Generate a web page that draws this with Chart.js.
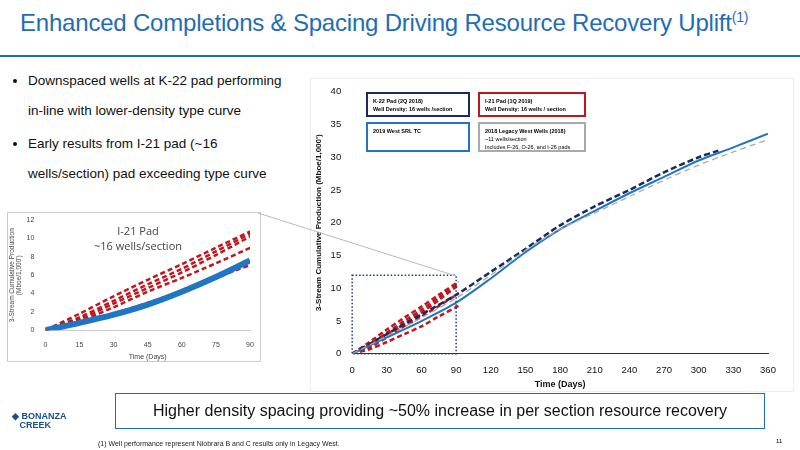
<!DOCTYPE html>
<html><head><meta charset="utf-8">
<script src="https://cdn.jsdelivr.net/npm/chart.js@4"></script>
<style>
body{margin:0;width:800px;height:450px;position:relative;background:#fff;font-family:"Liberation Sans",Arial,sans-serif;overflow:hidden}
.abs{position:absolute}
h1{position:absolute;left:20px;top:9px;margin:0;font-weight:normal;font-size:24px;color:#1f6db5;letter-spacing:-0.2px}
h1 sup{font-size:14px}
.rule{left:0;top:55px;width:800px;height:2px;background:#1f6db5}
ul{position:absolute;left:8px;top:66px;margin:0;padding-left:20px;font-size:13.5px;color:#111;width:270px;line-height:30px}
li{margin-bottom:3px}
.lg{position:absolute;font-size:5.5px;font-weight:bold;padding:3px 5px;box-sizing:border-box;line-height:8px;white-space:nowrap}
.banner{left:115px;top:393px;width:650px;height:36px;border:1.5px solid #1f6db5;box-sizing:border-box;text-align:center;font-size:16px;line-height:33px;color:#111}
.foot{left:98px;top:440px;font-size:7px;color:#222}
</style></head><body>
<h1>Enhanced Completions &amp; Spacing Driving Resource Recovery Uplift<sup>(1)</sup></h1>
<div class="abs rule"></div>
<ul><li>Downspaced wells at K-22 pad performing in-line with lower-density type curve</li><li>Early results from I-21 pad (~16 wells/section) pad exceeding type curve</li></ul>
<div class="abs" style="left:310px;top:78px;width:482px;height:312px;border:1px solid #eee"></div>
<div class="abs" style="left:310px;top:83px;width:480px;height:311px"><canvas id="main"></canvas></div>
<div class="abs" style="left:7px;top:212px;width:252px;height:148px;border:1px solid #ccc;background:#fff"><canvas id="inset"></canvas></div>
<svg class="abs" style="left:0;top:0" width="800" height="450"><line x1="258" y1="213" x2="456" y2="276" stroke="#bbb" stroke-width="1"/></svg>
<div class="lg" style="left:366px;top:92px;width:104px;height:25px;border:2.5px solid #1a2a5e">K-22 Pad (2Q 2018)<br>Well Density: 16 wells /section</div>
<div class="lg" style="left:478px;top:92px;width:108px;height:25px;border:2.5px solid #c0161e">I-21 Pad (1Q 2019)<br>Well Density: 16 wells / section</div>
<div class="lg" style="left:366px;top:122px;width:104px;height:30px;border:2.5px solid #1f77c4">2019 West SRL TC</div>
<div class="lg" style="left:478px;top:122px;width:108px;height:30px;border:2.5px solid #aaa">2018 Legacy West Wells (2018)<br><span style="font-weight:normal">~11 wells/section<br>Includes F-26, O-26, and I-26 pads</span></div>
<div class="abs banner">Higher density spacing providing ~50% increase in per section resource recovery</div>
<div class="abs" style="left:12px;top:412px;font-size:9px;font-weight:bold;color:#1a4f8b;line-height:9px">◆ BONANZA<br>&nbsp;&nbsp;&nbsp;CREEK</div>
<div class="abs foot">(1) Well performance represent Niobrara B and C results only in Legacy West.</div>
<div class="abs" style="left:776px;top:438px;font-size:6px">11</div>
<script>
const tcX=[0,30,60,90,120,150,180,210,240,270,300,330,360];
const tcY=[0,2.5,5,7.8,11.5,15.5,19,21.8,24.5,27,29.5,31.5,33.6];
const legY=[0,2.7,5.5,8.5,12,15.8,19,21.5,24,26.5,28.8,30.8,32.7];
const k22X=[0,30,60,90,120,150,180,210,240,270,300,317];
const k22Y=[0,3,6,9,12.5,16,19.6,22.5,25,27.7,30,31];
const i21X=[0,15,30,45,60,75,92];
const i21A=[0,1.8,3.7,5.5,7.2,9,11];
const i21B=[0,1.2,2.9,4.6,6.3,8.2,10.5];
const i21C=[0,1.0,2.5,4.2,5.7,7.3,9.2];
const i21D=[0,0.7,1.8,3.0,4.2,5.7,7.3];
const i21E=[0,1.4,3.2,5.0,6.7,8.6,10.8];
const insetTC=[0,0.8,1.7,2.8,4.2,5.8,7.6];
const xTicks=[0,30,60,90,120,150,180,210,240,270,300,330,360];
const pts=(xs,ys)=>xs.map((x,i)=>({x,y:ys[i]}));
const red='#c0161e';
function redSets(w){return [i21A,i21B,i21C,i21D,i21E].map(a=>({data:pts(i21X,a),borderColor:red,borderWidth:w,borderDash:[5,3],pointRadius:0,tension:0.3}));}
const boxPlugin={id:'box',afterDatasetsDraw(c){const x=c.scales.x,y=c.scales.y,ctx=c.ctx;ctx.save();ctx.strokeStyle='#1a3a7a';ctx.lineWidth=1.5;ctx.setLineDash([1.5,2]);const l=x.getPixelForValue(0),r=x.getPixelForValue(90),t=y.getPixelForValue(12),b=y.getPixelForValue(0);ctx.strokeRect(l,t,r-l,b-t);ctx.restore();}};
new Chart(document.getElementById('main'),{type:'line',data:{datasets:[
 {data:pts(tcX,legY),borderColor:'#aaa',borderWidth:1.3,borderDash:[6,4],pointRadius:0,tension:0.3},
 {data:pts(tcX,tcY),borderColor:'#1f77c4',borderWidth:2,pointRadius:0,tension:0.3},
 {data:pts(k22X,k22Y),borderColor:'#1a2a5e',borderWidth:2.5,borderDash:[6,3],pointRadius:0,tension:0.3},
 ...redSets(2.5)]},
 options:{responsive:true,maintainAspectRatio:false,animation:false,layout:{padding:{right:22,top:6,bottom:4}},plugins:{legend:{display:false}},
 scales:{x:{type:'linear',min:0,max:360,afterBuildTicks:a=>{a.ticks=xTicks.map(v=>({value:v}));},grid:{display:false},border:{color:'#333'},ticks:{color:'#111',font:{size:9.5}},title:{display:true,text:'Time (Days)',font:{size:9,weight:'bold'},color:'#111',padding:0}},
 y:{min:0,max:40,grid:{display:false},border:{display:false},ticks:{stepSize:5,color:'#111',font:{size:9.5}},title:{display:true,text:"3-Stream Cumulative Production (Mboe/1,000')",font:{size:8,weight:'bold'},color:'#111'}}}},
 plugins:[boxPlugin]});
new Chart(document.getElementById('inset'),{type:'line',data:{datasets:[
 {data:pts(i21X.map(v=>Math.min(v,90)),insetTC),borderColor:'#1f77c4',borderWidth:6,pointRadius:0,tension:0.3},
 ...redSets(2.5)]},
 options:{responsive:true,maintainAspectRatio:false,animation:false,layout:{padding:{right:10,top:6}},plugins:{legend:{display:false},title:{display:false}},
 scales:{x:{type:'linear',min:0,max:90,grid:{display:false},border:{color:'#ccc'},ticks:{stepSize:15,color:'#444',font:{size:7}},title:{display:true,text:'Time (Days)',font:{size:7},color:'#444',padding:0}},
 y:{min:0,max:12,grid:{display:false},border:{display:false},ticks:{stepSize:2,color:'#444',font:{size:7}},title:{display:true,text:["3-Stream Cumulative Production","(Mboe/1,000')"],font:{size:6.5},color:'#444',padding:0}}}},
 plugins:[{id:'t',afterDraw(c){const ctx=c.ctx;ctx.save();ctx.fillStyle='#444';ctx.font='11px "Open Sans"';ctx.textAlign='center';ctx.fillText('I-21 Pad',130,22);ctx.fillText('~16 wells/section',130,37);ctx.restore();}}]});
</script></body></html>
